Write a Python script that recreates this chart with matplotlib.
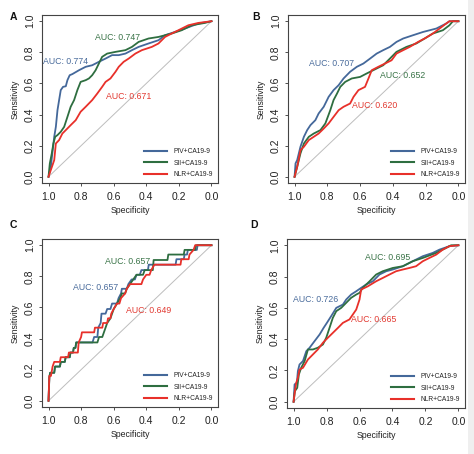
import matplotlib
matplotlib.use('Agg')
import matplotlib.pyplot as plt
from matplotlib.patches import Rectangle

plt.rcParams['font.family'] = ['Liberation Sans', 'DejaVu Sans']

# ---------------- data ----------------
series_labels = ['PIV+CA19-9', 'SII+CA19-9', 'NLR+CA19-9']
panel_letters = ['A', 'B', 'C', 'D']
tick_values = [1.0, 0.8, 0.6, 0.4, 0.2, 0.0]
tick_labels = ['1.0', '0.8', '0.6', '0.4', '0.2', '0.0']
y_tick_values = [0.0, 0.2, 0.4, 0.6, 0.8, 1.0]
y_tick_labels = ['0.0', '0.2', '0.4', '0.6', '0.8', '1.0']

# Panel A
A_piv_spec = [1.0, 0.986, 0.965, 0.955, 0.945, 0.935, 0.925, 0.911, 0.894, 0.884, 0.870, 0.854, 0.813, 0.772,
              0.732, 0.691, 0.650, 0.610, 0.569, 0.528, 0.488, 0.447, 0.386, 0.325, 0.285, 0.224, 0.163, 0.081, 0.0]
A_piv_sens = [0.0, 0.064, 0.257, 0.321, 0.428, 0.493, 0.557, 0.578, 0.582, 0.621, 0.653, 0.660, 0.685, 0.707,
              0.717, 0.739, 0.760, 0.782, 0.782, 0.792, 0.814, 0.835, 0.857, 0.878, 0.910, 0.931, 0.953, 0.985, 1.0]
A_sii_spec = [1.0, 0.992, 0.980, 0.970, 0.959, 0.945, 0.925, 0.904, 0.884, 0.864, 0.843, 0.823, 0.803, 0.772,
              0.752, 0.732, 0.711, 0.691, 0.671, 0.640, 0.589, 0.528, 0.488, 0.447, 0.386, 0.325, 0.244, 0.183,
              0.122, 0.041, 0.0]
A_sii_sens = [0.0, 0.086, 0.150, 0.214, 0.257, 0.268, 0.289, 0.321, 0.385, 0.450, 0.493, 0.557, 0.610, 0.621,
              0.632, 0.653, 0.685, 0.728, 0.771, 0.792, 0.803, 0.814, 0.835, 0.867, 0.889, 0.899, 0.921, 0.942,
              0.974, 0.989, 1.0]
A_nlr_spec = [1.0, 0.986, 0.965, 0.955, 0.935, 0.915, 0.894, 0.864, 0.833, 0.803, 0.772, 0.732, 0.701, 0.671,
              0.650, 0.620, 0.589, 0.569, 0.539, 0.508, 0.467, 0.427, 0.366, 0.325, 0.305, 0.285, 0.244, 0.203,
              0.142, 0.081, 0.0]
A_nlr_sens = [0.0, 0.043, 0.107, 0.214, 0.236, 0.278, 0.300, 0.332, 0.364, 0.418, 0.450, 0.493, 0.535, 0.578,
              0.610, 0.632, 0.675, 0.707, 0.739, 0.760, 0.792, 0.814, 0.835, 0.857, 0.878, 0.899, 0.921, 0.942,
              0.974, 0.989, 1.0]

# Panel B
B_piv_spec = [1.0, 0.994, 0.984, 0.974, 0.964, 0.943, 0.923, 0.903, 0.873, 0.853, 0.822, 0.792, 0.762, 0.731,
              0.701, 0.661, 0.620, 0.580, 0.539, 0.499, 0.459, 0.418, 0.378, 0.337, 0.277, 0.216, 0.135, 0.075,
              0.055, 0.0]
B_piv_sens = [0.0, 0.086, 0.107, 0.150, 0.193, 0.257, 0.300, 0.332, 0.364, 0.407, 0.450, 0.514, 0.557, 0.589,
              0.632, 0.675, 0.707, 0.728, 0.760, 0.792, 0.814, 0.835, 0.867, 0.889, 0.910, 0.931, 0.953, 0.985,
              1.0, 1.0]
B_sii_spec = [1.0, 0.984, 0.964, 0.943, 0.913, 0.883, 0.842, 0.812, 0.782, 0.762, 0.741, 0.721, 0.691, 0.651,
              0.600, 0.560, 0.499, 0.459, 0.418, 0.378, 0.317, 0.257, 0.206, 0.156, 0.095, 0.055, 0.034, 0.0]
B_sii_sens = [0.0, 0.064, 0.150, 0.214, 0.257, 0.278, 0.300, 0.343, 0.428, 0.493, 0.535, 0.578, 0.610, 0.632,
              0.642, 0.664, 0.696, 0.717, 0.760, 0.803, 0.835, 0.857, 0.889, 0.921, 0.942, 0.974, 1.0, 1.0]
B_nlr_spec = [1.0, 0.984, 0.964, 0.943, 0.913, 0.883, 0.853, 0.822, 0.792, 0.762, 0.731, 0.701, 0.661, 0.640,
              0.610, 0.570, 0.549, 0.529, 0.489, 0.448, 0.408, 0.378, 0.337, 0.297, 0.246, 0.206, 0.156, 0.115,
              0.075, 0.055, 0.0]
B_nlr_sens = [0.0, 0.064, 0.171, 0.193, 0.236, 0.257, 0.278, 0.310, 0.343, 0.385, 0.428, 0.450, 0.471, 0.514,
              0.557, 0.578, 0.632, 0.685, 0.707, 0.728, 0.749, 0.792, 0.814, 0.835, 0.867, 0.889, 0.921, 0.953,
              0.985, 1.0, 1.0]

# Panel C (small sample, staircase corners)
C_piv_spec = [1.0, 0.995, 0.99, 0.965, 0.96, 0.93, 0.925, 0.90, 0.895, 0.87, 0.865, 0.85, 0.845, 0.835, 0.83,
              0.73, 0.72, 0.70, 0.695, 0.68, 0.675, 0.65, 0.64, 0.62, 0.61, 0.58, 0.57, 0.555, 0.55, 0.52, 0.51,
              0.49, 0.47, 0.46, 0.44, 0.43, 0.39, 0.385, 0.22, 0.215, 0.17, 0.165, 0.15, 0.145, 0.09, 0.085, 0.0]
C_piv_sens = [0.0, 0.15, 0.18, 0.18, 0.22, 0.22, 0.25, 0.25, 0.28, 0.28, 0.31, 0.31, 0.34, 0.34, 0.375,
              0.375, 0.41, 0.41, 0.47, 0.50, 0.56, 0.56, 0.59, 0.59, 0.625, 0.625, 0.66, 0.69, 0.72, 0.72, 0.75,
              0.78, 0.78, 0.81, 0.81, 0.84, 0.84, 0.875, 0.875, 0.91, 0.91, 0.94, 0.94, 0.97, 0.97, 1.0, 1.0]
C_sii_spec = [1.0, 0.995, 0.99, 0.965, 0.96, 0.93, 0.925, 0.90, 0.895, 0.87, 0.865, 0.85, 0.845, 0.835, 0.83,
              0.70, 0.69, 0.67, 0.66, 0.65, 0.64, 0.62, 0.61, 0.60, 0.58, 0.56, 0.55, 0.53, 0.52, 0.50, 0.48,
              0.46, 0.42, 0.41, 0.36, 0.355, 0.27, 0.265, 0.17, 0.165, 0.10, 0.095, 0.0]
C_sii_sens = [0.0, 0.15, 0.18, 0.18, 0.22, 0.22, 0.25, 0.25, 0.28, 0.28, 0.31, 0.31, 0.34, 0.34, 0.375,
              0.375, 0.41, 0.41, 0.44, 0.47, 0.50, 0.53, 0.56, 0.59, 0.625, 0.66, 0.69, 0.69, 0.72, 0.75, 0.78,
              0.81, 0.81, 0.84, 0.84, 0.905, 0.905, 0.94, 0.94, 0.97, 0.97, 1.0, 1.0]
C_nlr_spec = [1.0, 0.995, 0.985, 0.98, 0.975, 0.965, 0.93, 0.925, 0.88, 0.875, 0.82, 0.815, 0.80, 0.795, 0.72,
              0.715, 0.67, 0.665, 0.64, 0.635, 0.62, 0.615, 0.60, 0.58, 0.565, 0.555, 0.53, 0.52, 0.50, 0.43,
              0.42, 0.40, 0.38, 0.37, 0.35, 0.19, 0.185, 0.14, 0.135, 0.11, 0.10, 0.0]
C_nlr_sens = [0.0, 0.16, 0.16, 0.19, 0.22, 0.25, 0.25, 0.28, 0.28, 0.31, 0.31, 0.375, 0.41, 0.44, 0.44,
              0.47, 0.47, 0.50, 0.50, 0.53, 0.53, 0.56, 0.59, 0.625, 0.625, 0.66, 0.69, 0.72, 0.75, 0.75,
              0.78, 0.81, 0.81, 0.84, 0.875, 0.875, 0.91, 0.91, 0.94, 0.97, 1.0, 1.0]

# Panel D
D_piv_spec = [1.0, 0.994, 0.980, 0.974, 0.964, 0.943, 0.923, 0.903, 0.873, 0.842, 0.818, 0.798, 0.772, 0.741,
              0.701, 0.681, 0.651, 0.620, 0.590, 0.560, 0.519, 0.479, 0.438, 0.398, 0.337, 0.277, 0.216, 0.156,
              0.115, 0.055, 0.0]
D_piv_sens = [0.0, 0.111, 0.121, 0.196, 0.238, 0.260, 0.323, 0.345, 0.387, 0.430, 0.472, 0.504, 0.547, 0.600,
              0.621, 0.653, 0.685, 0.706, 0.728, 0.749, 0.770, 0.813, 0.834, 0.845, 0.866, 0.898, 0.930, 0.951,
              0.972, 0.994, 1.0]
D_sii_spec = [1.0, 0.992, 0.978, 0.968, 0.954, 0.933, 0.913, 0.883, 0.853, 0.822, 0.802, 0.782, 0.762, 0.741,
              0.711, 0.681, 0.651, 0.620, 0.600, 0.580, 0.539, 0.499, 0.459, 0.398, 0.337, 0.277, 0.216, 0.135,
              0.075, 0.044, 0.0]
D_sii_sens = [0.0, 0.068, 0.089, 0.174, 0.217, 0.260, 0.334, 0.334, 0.345, 0.366, 0.409, 0.472, 0.536, 0.579,
              0.600, 0.632, 0.664, 0.685, 0.696, 0.728, 0.770, 0.813, 0.834, 0.855, 0.866, 0.898, 0.919, 0.951,
              0.983, 1.0, 1.0]
D_nlr_spec = [1.0, 0.992, 0.984, 0.974, 0.964, 0.943, 0.913, 0.883, 0.853, 0.822, 0.792, 0.762, 0.731, 0.701,
              0.661, 0.620, 0.600, 0.590, 0.549, 0.499, 0.459, 0.418, 0.378, 0.337, 0.297, 0.257, 0.216, 0.176,
              0.135, 0.095, 0.055, 0.0]
D_nlr_sens = [0.0, 0.068, 0.121, 0.153, 0.206, 0.217, 0.270, 0.302, 0.334, 0.377, 0.409, 0.440, 0.472, 0.504,
              0.526, 0.589, 0.653, 0.717, 0.738, 0.770, 0.791, 0.813, 0.834, 0.845, 0.855, 0.866, 0.898, 0.919,
              0.940, 0.972, 0.994, 1.0]

auc_A = ['0.774', '0.747', '0.671']
auc_B = ['0.707', '0.652', '0.620']
auc_C = ['0.657', '0.657', '0.649']
auc_D = ['0.726', '0.695', '0.665']

# ---------------- style / layout ----------------
colors = ['#44689A', '#2E6E40', '#E8302A']
text_colors = ['#4A6C9C', '#3A7448', '#E23A32']

panels = [
    dict(rect=[42/474, 1-183/454, 176/474, 168/454],
         curves=[(A_piv_spec, A_piv_sens), (A_sii_spec, A_sii_sens), (A_nlr_spec, A_nlr_sens)],
         auc=auc_A, pos=[(0.896, 0.744), (0.576, 0.897), (0.509, 0.513)],
         letter=(13/474, 1-17/454)),
    dict(rect=[288/474, 1-183/454, 177/474, 168/454],
         curves=[(B_piv_spec, B_piv_sens), (B_sii_spec, B_sii_sens), (B_nlr_spec, B_nlr_sens)],
         auc=auc_B, pos=[(0.776, 0.73), (0.34, 0.654), (0.512, 0.455)],
         letter=(256/474, 1-17/454)),
    dict(rect=[42/474, 1-407/454, 176/474, 168/454],
         curves=[(C_piv_spec, C_piv_sens), (C_sii_spec, C_sii_sens), (C_nlr_spec, C_nlr_sens)],
         auc=auc_C, pos=[(0.708, 0.731), (0.513, 0.897), (0.387, 0.581)],
         letter=(13/474, 1-225/454)),
    dict(rect=[287/474, 1-408/454, 178/474, 169/454],
         curves=[(D_piv_spec, D_piv_sens), (D_sii_spec, D_sii_sens), (D_nlr_spec, D_nlr_sens)],
         auc=auc_D, pos=[(0.866, 0.653), (0.428, 0.919), (0.511, 0.526)],
         letter=(254/474, 1-225/454)),
]

fig = plt.figure(figsize=(4.74, 4.54), dpi=100)
fig.patch.set_facecolor('white')
fig.add_artist(Rectangle((468/474, 0), 6/474, 1, transform=fig.transFigure,
                         facecolor='#EFEFEF', edgecolor='none'))

for i, p in enumerate(panels):
    ax = fig.add_axes(p['rect'])
    ax.set_xlim(1.04, -0.04)
    ax.set_ylim(-0.04, 1.04)
    ax.plot([1, 0], [0, 1], color='#BDBDBD', lw=0.7, zorder=1)
    for j, (sx, sy) in enumerate(p['curves']):
        ax.plot(sx, sy, color=colors[j], lw=1.3, label=series_labels[j], zorder=2)
    for j, (x, y) in enumerate(p['pos']):
        ax.text(x, y, 'AUC: ' + p['auc'][j], color=text_colors[j], fontsize=6.3,
                ha='center', va='center', zorder=5)
    ax.set_xticks(tick_values)
    ax.set_xticklabels(tick_labels)
    ax.set_yticks(y_tick_values)
    ax.set_yticklabels(y_tick_labels, rotation=90, va='center')
    ax.tick_params(axis='both', length=2.2, width=0.6, color='#333333', labelsize=7.5,
                   labelcolor='#222222')
    ax.tick_params(axis='x', pad=4)
    ax.tick_params(axis='y', pad=3)
    for s in ax.spines.values():
        s.set_color('#444444')
        s.set_linewidth(0.8)
    ax.set_xlabel('Specificity', fontsize=6.3, color='#222222', labelpad=3)
    ax.set_ylabel('Sensitivity', fontsize=6.3, color='#222222', labelpad=4)
    leg = ax.legend(loc='lower right', frameon=False, fontsize=4.8, handlelength=3.5,
                    handletextpad=1.0, labelspacing=0.7, borderaxespad=0.4, borderpad=0.3)
    for line in leg.get_lines():
        line.set_linewidth(1.5)
    for t in leg.get_texts():
        t.set_color('#222222')
    fig.text(p['letter'][0], p['letter'][1], panel_letters[i], fontsize=7.5, fontweight='bold',
             ha='center', va='center', color='#111111')

fig.savefig('out.png', dpi=100)
